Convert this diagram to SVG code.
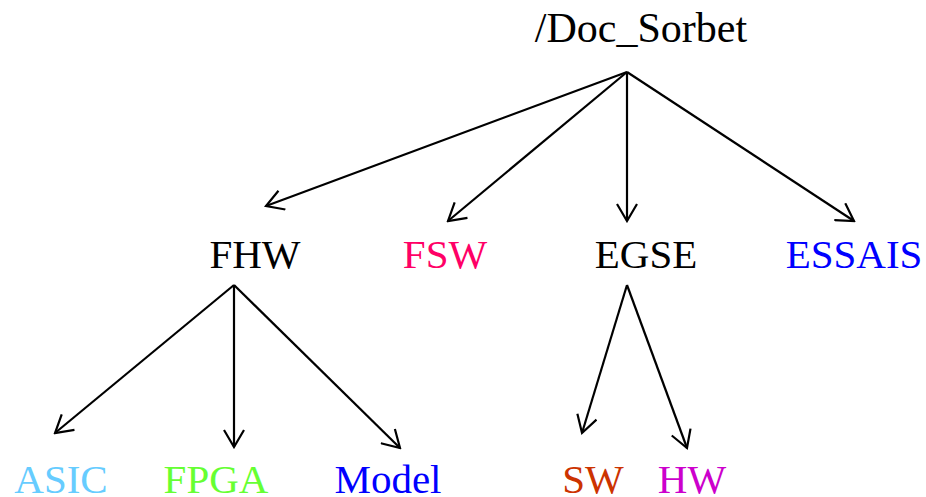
<svg xmlns="http://www.w3.org/2000/svg" width="926" height="497" viewBox="0 0 926 497">
<style>
text{font-family:"Liberation Serif","Times New Roman",serif;font-size:41px;text-anchor:middle}
.c line{stroke:#000;stroke-width:2.2;marker-end:url(#ah)}
</style>
<defs>
<marker id="ah" viewBox="0 0 20 22" refX="18" refY="11" markerWidth="20" markerHeight="22" markerUnits="userSpaceOnUse" orient="auto">
<path d="M1,1 L18,11 L1,21" fill="none" stroke="#000" stroke-width="2.2"/>
</marker>
</defs>
<rect width="926" height="497" fill="#fff"/>
<g id="connectors" class="c">
<line x1="627" y1="72" x2="266" y2="206"/>
<line x1="627" y1="72" x2="448" y2="221"/>
<line x1="627" y1="72" x2="627" y2="221"/>
<line x1="627" y1="72" x2="854" y2="221"/>
<line x1="234" y1="285" x2="55" y2="433"/>
<line x1="234" y1="285" x2="234" y2="447"/>
<line x1="234" y1="285" x2="400" y2="448"/>
<line x1="627" y1="285" x2="582" y2="433"/>
<line x1="627" y1="285" x2="687" y2="448"/>
</g>
<g id="root"><text x="641" y="42" style="font-size:42px">/Doc_Sorbet</text></g>
<g id="FHW"><text x="255" y="268">FHW</text></g>
<g id="FSW"><text x="445" y="268" fill="#ff0066">FSW</text></g>
<g id="EGSE"><text x="646" y="268">EGSE</text></g>
<g id="ESSAIS"><text x="854" y="268" fill="#0000ff">ESSAIS</text></g>
<g id="ASIC"><text x="61" y="493" fill="#66ccff">ASIC</text></g>
<g id="FPGA"><text x="216" y="493" fill="#66ff33">FPGA</text></g>
<g id="Model"><text x="388" y="493" fill="#0000ff">Model</text></g>
<g id="SW"><text x="593" y="493" fill="#cc3300">SW</text></g>
<g id="HW"><text x="692" y="493" fill="#cc00cc">HW</text></g>
</svg>
